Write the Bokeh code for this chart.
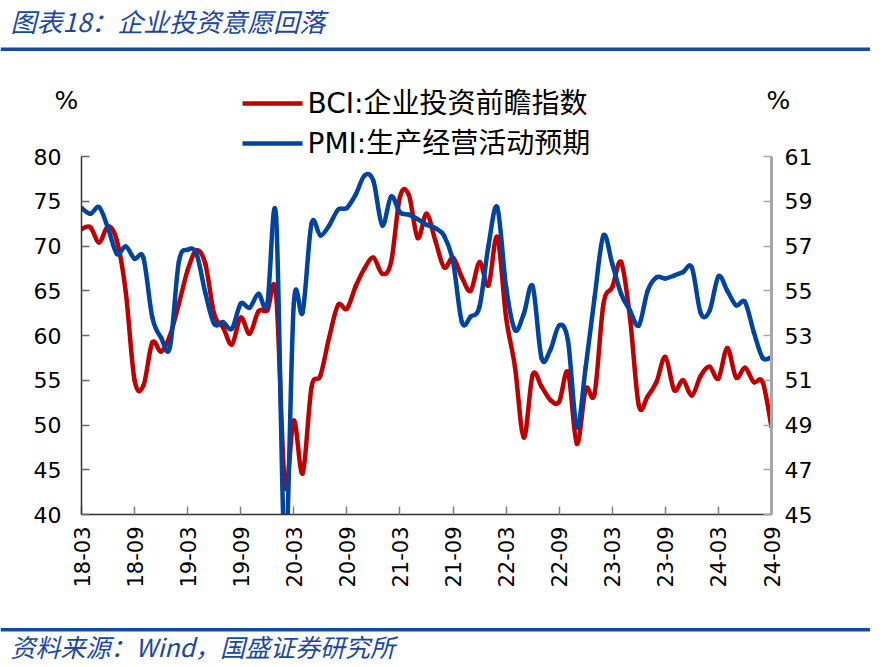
from bokeh.plotting import figure
from bokeh.models import Range1d, LinearAxis, FixedTicker
from bokeh.layouts import column
from bokeh.embed import file_html
from bokeh.resources import INLINE
from bokeh.core.properties import value
from math import pi

# ---------------- data ----------------
tick_labels = ["18-03", "18-09", "19-03", "19-09", "20-03", "20-09", "21-03",
               "21-09", "22-03", "22-09", "23-03", "23-09", "24-03", "24-09"]

months = [f"{y % 100:02d}-{m:02d}" for y in range(2018, 2025) for m in range(1, 13)]
months = months[months.index("18-03"):months.index("24-09") + 1]

bci = [71.9, 72.1, 70.4, 72.2, 70.6, 64.9, 55.0, 54.4, 59.2, 58.2,
       60.0, 63.5, 67.3, 69.5, 68.0, 62.4, 60.9, 59.0, 62.0, 60.2,
       62.7, 62.8, 64.6, 43.2, 50.5, 44.6, 54.2, 55.5, 59.8, 63.4,
       63.0, 65.5, 67.5, 68.7, 66.9, 68.2, 75.5, 75.7, 70.9, 73.6,
       70.6, 67.6, 68.7, 66.5, 65.0, 68.2, 65.6, 71.0, 62.0, 56.5,
       48.6, 55.6, 54.3, 52.8, 52.6, 55.9, 47.9, 54.0, 53.5, 63.5,
       65.4, 68.2, 62.0, 52.2, 53.2, 54.8, 57.6, 53.9, 55.0, 53.3,
       55.5, 56.5, 55.2, 58.6, 55.3, 56.4, 54.8, 54.8, 49.8]

pmi = [58.70, 58.44, 58.73, 57.80, 56.65, 56.98, 56.43, 56.47, 53.82, 52.90,
       52.48, 56.28, 56.83, 56.65, 54.90, 53.52, 53.60, 53.30, 54.42, 54.24,
       54.86, 54.39, 58.29, 43.00, 54.42, 54.04, 57.99, 57.47, 57.92, 58.62,
       58.70, 59.30, 60.15, 59.90, 57.92, 59.21, 58.50, 58.40, 58.20, 57.95,
       57.80, 57.45, 56.30, 53.60, 53.85, 54.30, 57.00, 58.73, 55.16, 53.25,
       53.97, 55.20, 52.00, 52.35, 53.45, 52.75, 48.90, 51.60, 54.70, 57.47,
       56.20, 54.86, 54.12, 53.45, 55.00, 55.60, 55.55, 55.68, 55.83, 56.03,
       54.00, 54.10, 55.64, 55.00, 54.35, 54.50, 53.15, 52.00, 52.03]

left_ticks = [40, 45, 50, 55, 60, 65, 70, 75, 80]
right_ticks = [45, 47, 49, 51, 53, 55, 57, 59, 61]

title_text = "图表18：企业投资意愿回落"
source_text = "资料来源：Wind，国盛证券研究所"
bci_label = "BCI:企业投资前瞻指数"
pmi_label = "PMI:生产经营活动预期"

RED = "#C00000"
BLUE = "#0044A0"
NAVY = "#1A48A0"
MIXED = value("DejaVu Sans, Noto Sans CJK SC")
CJK = value("Noto Sans CJK SC")

# ---------------- layout geometry (page px) ----------------
W = 870
HEAD_H = 120            # header strip: page y 0..120
MAIN_H = 500            # main strip:   page y 120..620
FOOT_H = 44             # footer strip: page y 620..664
FL, FR, FT, FB = 81, 771, 156, 514   # chart area in page px


def strip(h):
    f = figure(width=W, height=h, output_backend="svg", toolbar_location=None,
               x_range=Range1d(0, W), y_range=Range1d(h, 0),
               x_axis_type=None, y_axis_type=None,
               min_border=0, outline_line_color=None, frame_align=False,
               background_fill_color="white", border_fill_color="white")
    return f


# ---------------- header ----------------
head = strip(HEAD_H)
head.text(x=[10], y=[20], text=[title_text], text_font=CJK, text_font_style="italic",
          text_font_size="26px", text_color=NAVY, text_baseline="middle", text_align="left")
head.quad(left=[0], right=[W], top=[47], bottom=[50.5], fill_color=NAVY, line_color=None)
head.text(x=[66, 778], y=[100, 100], text=["%", "%"], text_font=value("DejaVu Sans"),
          text_font_size="25px", text_color="black", text_baseline="middle", text_align="center")
head.segment(x0=[242], y0=[103], x1=[302], y1=[103], line_color=RED, line_width=4.5)
head.text(x=[307], y=[103], text=[bci_label], text_font=MIXED, text_font_size="28px",
          text_color="black", text_baseline="middle", text_align="left")

# ---------------- main chart ----------------
XN = len(months) - 1
top_off = FT - HEAD_H
y_top = left_ticks[-1] + top_off * (left_ticks[-1] - left_ticks[0]) / (FB - FT)
r_top = right_ticks[-1] + top_off * (right_ticks[-1] - right_ticks[0]) / (FB - FT)

xs = list(range(len(months)))
p = figure(width=W, height=MAIN_H, output_backend="svg", toolbar_location=None,
           x_range=Range1d(0, XN), y_range=Range1d(left_ticks[0], y_top),
           min_border_left=FL, min_border_right=W - FR,
           min_border_top=0, min_border_bottom=HEAD_H + MAIN_H - FB,
           outline_line_color=None, frame_align=False,
           background_fill_color="white", border_fill_color="white")
p.xgrid.visible = False
p.ygrid.visible = False
p.extra_y_ranges = {"right": Range1d(right_ticks[0], r_top)}


def smooth(xv, yv):
    n = len(xv)
    out = dict(x0=[], y0=[], x1=[], y1=[], cx0=[], cy0=[], cx1=[], cy1=[])
    for k in range(n - 1):
        a = k - 1 if k > 0 else k
        d = k + 2 if k + 2 < n else k + 1
        out["x0"].append(xv[k]); out["y0"].append(yv[k])
        out["x1"].append(xv[k + 1]); out["y1"].append(yv[k + 1])
        out["cx0"].append(xv[k] + (xv[k + 1] - xv[a]) / 6)
        out["cy0"].append(yv[k] + (yv[k + 1] - yv[a]) / 6)
        out["cx1"].append(xv[k + 1] - (xv[d] - xv[k]) / 6)
        out["cy1"].append(yv[k + 1] - (yv[d] - yv[k]) / 6)
    return out


p.bezier(**smooth(xs, bci), line_color=RED, line_width=4.5, line_cap="round")
p.bezier(**smooth(xs, pmi), line_color=BLUE, line_width=4.5, line_cap="round",
         y_range_name="right")


def mx(px):
    return (px - FL) / (FR - FL) * XN


def my(py):
    return left_ticks[-1] - (py - FT) / (FB - FT) * (left_ticks[-1] - left_ticks[0])


# legend row 2 (inside the extended frame)
p.segment(x0=[mx(242)], y0=[my(143)], x1=[mx(302)], y1=[my(143)],
          line_color=BLUE, line_width=4.5)
p.text(x=[mx(307)], y=[my(143)], text=[pmi_label], text_font=MIXED, text_font_size="28px",
       text_color="black", text_baseline="middle", text_align="left")

# x axis
xa = p.xaxis[0]
xa.ticker = FixedTicker(ticks=[months.index(t) for t in tick_labels])
xa.major_label_overrides = {months.index(t): t for t in tick_labels}
xa.major_label_orientation = pi / 2
xa.major_tick_in = 8
xa.major_tick_out = 0
xa.minor_tick_line_color = None
xa.axis_line_color = "#333333"
xa.axis_line_width = 1.5
xa.major_tick_line_color = "#808080"
xa.major_tick_line_width = 1.5
xa.major_label_text_font = "DejaVu Sans"
xa.major_label_text_font_size = "21px"
xa.major_label_text_color = "black"
xa.major_label_standoff = 12

# left axis
ya = p.yaxis[0]
ya.ticker = FixedTicker(ticks=left_ticks)
ya.bounds = (left_ticks[0], left_ticks[-1])
ya.major_tick_in = 8
ya.major_tick_out = 0
ya.minor_tick_line_color = None
ya.axis_line_color = "#333333"
ya.axis_line_width = 1.5
ya.major_tick_line_color = "#666666"
ya.major_tick_line_width = 1.5
ya.major_label_text_font = "DejaVu Sans"
ya.major_label_text_font_size = "22px"
ya.major_label_text_color = "black"
ya.major_label_standoff = 20

# right axis
ra = LinearAxis(y_range_name="right", ticker=FixedTicker(ticks=right_ticks))
ra.bounds = (right_ticks[0], right_ticks[-1])
ra.major_tick_in = 8
ra.major_tick_out = 0
ra.minor_tick_line_color = None
ra.axis_line_color = "#A6A6A6"
ra.axis_line_width = 3
ra.major_tick_line_color = "#A6A6A6"
ra.major_tick_line_width = 1.5
ra.major_label_text_font = "DejaVu Sans"
ra.major_label_text_font_size = "22px"
ra.major_label_text_color = "black"
ra.major_label_standoff = 13
p.add_layout(ra, "right")

# ---------------- footer ----------------
foot = strip(FOOT_H)
foot.quad(left=[0], right=[W], top=[7.5], bottom=[11], fill_color=NAVY, line_color=None)
foot.text(x=[10], y=[25], text=[source_text], text_font=CJK, text_font_style="italic",
          text_font_size="25px", text_color=NAVY, text_baseline="middle", text_align="left")

layout = column(head, p, foot, spacing=0)
open("out.html", "w").write(file_html(layout, INLINE))
